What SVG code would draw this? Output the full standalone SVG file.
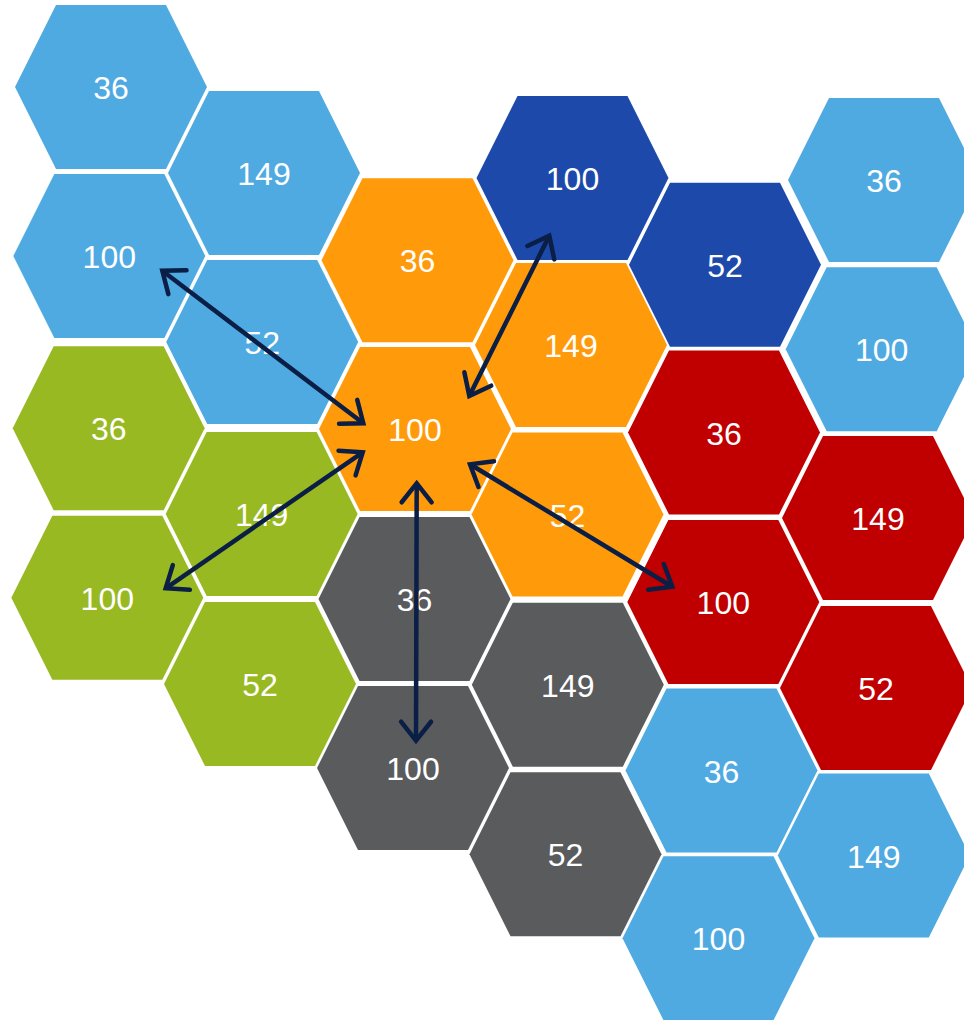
<svg xmlns="http://www.w3.org/2000/svg" width="964" height="1020" viewBox="0 0 964 1020">
<defs>
<style>
.hex{stroke:none}
.lb{fill:#50AAE2}.db{fill:#1D4AAA}.or{fill:#FF9B0A}.gn{fill:#98B922}.gy{fill:#5A5B5D}.rd{fill:#C00000}
text{font-family:"Liberation Sans",Arial,sans-serif;font-size:32px;fill:#FFFFFF;text-anchor:middle}
.conn{stroke:#0A1E46;stroke-width:4.5;fill:none;marker-start:url(#ah);marker-end:url(#ah)}
</style>
<marker id="ah" markerUnits="userSpaceOnUse" viewBox="-30 -20 40 40" markerWidth="40" markerHeight="40" refX="0" refY="0" orient="auto-start-reverse" overflow="visible">
<path d="M-19,-15 L0,0 L-19,15" fill="none" stroke="#0A1E46" stroke-width="4.5" stroke-linecap="round" stroke-linejoin="miter"/>
</marker>
</defs>
<rect width="964" height="1020" fill="#FFFFFF"/>
<g id="nodes">
<g id="c0r0" transform="translate(111,87)"><polygon class="hex lb" points="-96,0 -55,-82 55,-82 96,0 55,82 -55,82"/><text y="12">36</text></g>
<g id="c0r1" transform="translate(109.3,256)"><polygon class="hex lb" points="-96,0 -55,-82 55,-82 96,0 55,82 -55,82"/><text y="12">100</text></g>
<g id="c0r2" transform="translate(108.7,428.3)"><polygon class="hex gn" points="-96,0 -55,-82 55,-82 96,0 55,82 -55,82"/><text y="12">36</text></g>
<g id="c0r3" transform="translate(107.3,597.7)"><polygon class="hex gn" points="-96,0 -55,-82 55,-82 96,0 55,82 -55,82"/><text y="12">100</text></g>

<g id="c1r0" transform="translate(264,173)"><polygon class="hex lb" points="-96,0 -55,-82 55,-82 96,0 55,82 -55,82"/><text y="12">149</text></g>
<g id="c1r1" transform="translate(262.2,342)"><polygon class="hex lb" points="-96,0 -55,-82 55,-82 96,0 55,82 -55,82"/><text y="12">52</text></g>
<g id="c1r2" transform="translate(261.7,514)"><polygon class="hex gn" points="-96,0 -55,-82 55,-82 96,0 55,82 -55,82"/><text y="12">149</text></g>
<g id="c1r3" transform="translate(260,684)"><polygon class="hex gn" points="-96,0 -55,-82 55,-82 96,0 55,82 -55,82"/><text y="12">52</text></g>

<g id="c2r0" transform="translate(417.5,260.3)"><polygon class="hex or" points="-96,0 -55,-82 55,-82 96,0 55,82 -55,82"/><text y="12">36</text></g>
<g id="c2r1" transform="translate(415,429)"><polygon class="hex or" points="-96,0 -55,-82 55,-82 96,0 55,82 -55,82"/><text y="12">100</text></g>
<g id="c2r2" transform="translate(414.5,599)"><polygon class="hex gy" points="-96,0 -55,-82 55,-82 96,0 55,82 -55,82"/><text y="12">36</text></g>
<g id="c2r3" transform="translate(413,768)"><polygon class="hex gy" points="-96,0 -55,-82 55,-82 96,0 55,82 -55,82"/><text y="12">100</text></g>

<g id="c3r0" transform="translate(572.5,178)"><polygon class="hex db" points="-96,0 -55,-82 55,-82 96,0 55,82 -55,82"/><text y="12">100</text></g>
<g id="c3r1" transform="translate(571,345)"><polygon class="hex or" points="-96,0 -55,-82 55,-82 96,0 55,82 -55,82"/><text y="12">149</text></g>
<g id="c3r2" transform="translate(567.5,514.5)"><polygon class="hex or" points="-96,0 -55,-82 55,-82 96,0 55,82 -55,82"/><text y="12">52</text></g>
<g id="c3r3" transform="translate(567.8,684.7)"><polygon class="hex gy" points="-96,0 -55,-82 55,-82 96,0 55,82 -55,82"/><text y="12">149</text></g>
<g id="c3r4" transform="translate(565.5,854.3)"><polygon class="hex gy" points="-96,0 -55,-82 55,-82 96,0 55,82 -55,82"/><text y="12">52</text></g>

<g id="c4r0" transform="translate(725,264.7)"><polygon class="hex db" points="-96,0 -55,-82 55,-82 96,0 55,82 -55,82"/><text y="12">52</text></g>
<g id="c4r1" transform="translate(724,432.5)"><polygon class="hex rd" points="-96,0 -55,-82 55,-82 96,0 55,82 -55,82"/><text y="12">36</text></g>
<g id="c4r2" transform="translate(723.3,602)"><polygon class="hex rd" points="-96,0 -55,-82 55,-82 96,0 55,82 -55,82"/><text y="12">100</text></g>
<g id="c4r3" transform="translate(721.5,770.5)"><polygon class="hex lb" points="-96,0 -55,-82 55,-82 96,0 55,82 -55,82"/><text y="12">36</text></g>
<g id="c4r4" transform="translate(718.5,938.3)"><polygon class="hex lb" points="-96,0 -55,-82 55,-82 96,0 55,82 -55,82"/><text y="12">100</text></g>

<g id="c5r0" transform="translate(884,180)"><polygon class="hex lb" points="-96,0 -55,-82 55,-82 96,0 55,82 -55,82"/><text y="12">36</text></g>
<g id="c5r1" transform="translate(881.7,349.3)"><polygon class="hex lb" points="-96,0 -55,-82 55,-82 96,0 55,82 -55,82"/><text y="12">100</text></g>
<g id="c5r2" transform="translate(878,518)"><polygon class="hex rd" points="-96,0 -55,-82 55,-82 96,0 55,82 -55,82"/><text y="12">149</text></g>
<g id="c5r3" transform="translate(876,688)"><polygon class="hex rd" points="-96,0 -55,-82 55,-82 96,0 55,82 -55,82"/><text y="12">52</text></g>
<g id="c5r4" transform="translate(873.8,855.5)"><polygon class="hex lb" points="-96,0 -55,-82 55,-82 96,0 55,82 -55,82"/><text y="12">149</text></g>
</g>
<g id="connectors">
<line class="conn" x1="162.3" y1="270.7" x2="363.3" y2="423.3"/>
<line class="conn" x1="362.7" y1="452.3" x2="165.7" y2="588.3"/>
<line class="conn" x1="416.7" y1="483.3" x2="416" y2="740.7"/>
<line class="conn" x1="470" y1="464.3" x2="672.3" y2="586.7"/>
<line class="conn" x1="549.3" y1="235.7" x2="469.3" y2="396"/>
</g>
</svg>
